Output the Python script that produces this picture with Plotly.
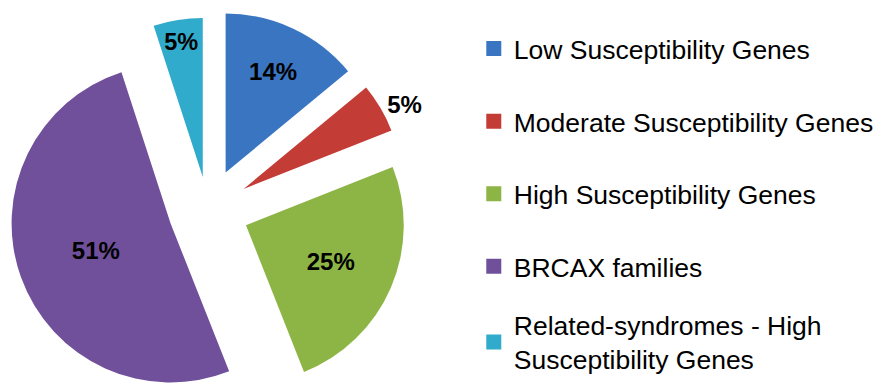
import math
import plotly.graph_objects as go

# Share of families by genetic category
labels = [
    "Low Susceptibility Genes",
    "Moderate Susceptibility Genes",
    "High Susceptibility Genes",
    "BRCAX families",
    "Related-syndromes - High<br>Susceptibility Genes",
]
values = [14, 5, 25, 51, 5]

colors = ["#3A75C2", "#C43C36", "#8DB546", "#70509B", "#31ABCB"]
pulls = [0.26, 0.26, 0.26, 0.25, 0.21]
text_positions = ["inside", "outside", "inside", "inside", "inside"]
legend_ids = ["legend", "legend", "legend", "legend", "legend2"]

W, H = 879, 383
R = 159            # slice radius in px
CX, CY = 208, 210  # pie centre in px (from top-left)

LABEL_FONT = "Liberation Sans Narrow, Arial Narrow, Liberation Sans, Arial"
LEGEND_FONT = dict(family="Liberation Sans, Arial", size=26.5, color="black")

fig = go.Figure()

total = sum(values)
start = 0.0
n = len(values)
for i, v in enumerate(values):
    sweep = v / total * 360.0
    mid = math.radians(start + sweep / 2)
    start += sweep
    # each slice is its own pie, shifted outward along its mid-angle
    d = pulls[i] * R
    px = CX + d * math.sin(mid)
    py = CY - d * math.cos(mid)
    dom_x = [max(0, (px - R) / W), min(1, (px + R) / W)]
    dom_y = [max(0, 1 - (py + R) / H), min(1, 1 - (py - R) / H)]
    fig.add_trace(go.Pie(
        values=values,
        labels=labels,
        sort=False,
        direction="clockwise",
        rotation=0,
        marker=dict(
            colors=[colors[j] if j == i else "rgba(0,0,0,0)" for j in range(n)],
            line=dict(width=0),
        ),
        texttemplate=["%{percent:.0%}" if j == i else "" for j in range(n)],
        textposition=[text_positions[i] if j == i else "none" for j in range(n)],
        insidetextorientation="horizontal",
        textfont=dict(family=LABEL_FONT, size=24, color="black", weight="bold"),
        outsidetextfont=dict(family=LABEL_FONT, size=24, color="black", weight="bold"),
        domain=dict(x=dom_x, y=dom_y),
        showlegend=False,
        hoverinfo="skip",
    ))

# Legend entries with square swatches
for i, (lab, c) in enumerate(zip(labels, colors)):
    fig.add_trace(go.Scatter(
        x=[None], y=[None], mode="markers",
        marker=dict(symbol="square", size=15, color=c),
        name=lab, legendgroup=f"g{i}", showlegend=True,
        legend=legend_ids[i],
    ))

fig.update_layout(
    width=W, height=H,
    margin=dict(l=0, r=0, t=0, b=0),
    paper_bgcolor="white",
    plot_bgcolor="white",
    xaxis=dict(visible=False),
    yaxis=dict(visible=False),
    legend=dict(
        x=0.539, y=0.935, xanchor="left", yanchor="top",
        font=LEGEND_FONT,
        tracegroupgap=35.1,
        itemwidth=30,
        bgcolor="rgba(0,0,0,0)",
    ),
    legend2=dict(
        x=0.539, y=0.0, xanchor="left", yanchor="bottom",
        font=LEGEND_FONT,
        itemwidth=30,
        bgcolor="rgba(0,0,0,0)",
    ),
)

fig.write_html("out.html")
